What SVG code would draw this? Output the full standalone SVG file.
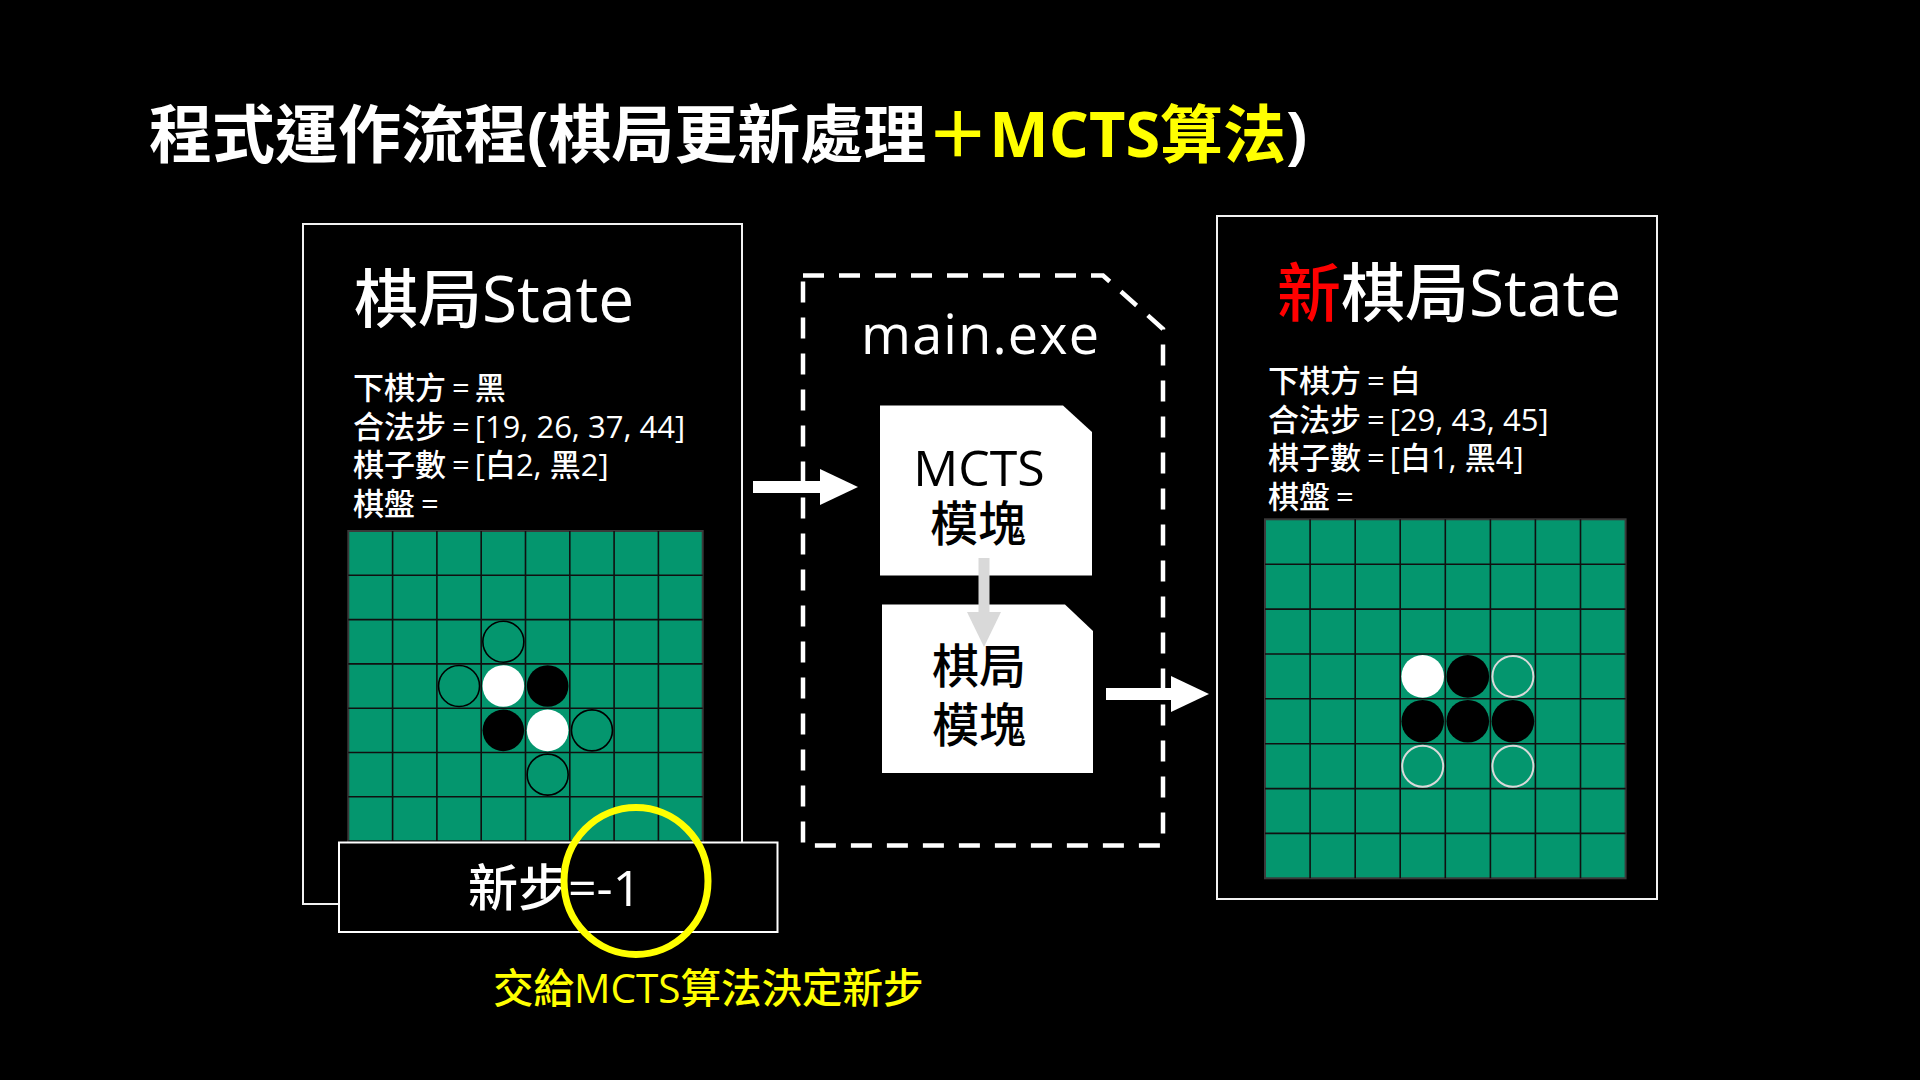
<svg xmlns="http://www.w3.org/2000/svg" width="1920" height="1080" viewBox="0 0 1920 1080">
  <defs>
    <style>
      .t { font-family: "Open Sans", "Noto Sans CJK TC", sans-serif; font-weight: 500; }
      .w { fill: #ffffff; }
      .k { fill: #000000; }
      .y { fill: #ffff00; }
      .red { fill: #ff0000; }
      .panel { fill: #000000; stroke: #f2f2f2; stroke-width: 2; }
      .board { fill: #04966e; stroke: #3a3a3a; stroke-width: 2; }
      .grid { fill: none; stroke: #101010; stroke-width: 1.6; }
      .wp { fill: #ffffff; }
      .bp { fill: #000000; }
      .hintd { fill: none; stroke: #000000; stroke-width: 1.6; }
      .hintl { fill: none; stroke: #d9d9d9; stroke-width: 2; }
      .module { fill: #ffffff; }
      .line { font-size: 31px; }
    </style>
    <marker id="headW" markerUnits="userSpaceOnUse" viewBox="0 0 38 36" markerWidth="38" markerHeight="36" refX="0" refY="18" orient="auto">
      <polygon points="0,0 38,18 0,36" fill="#ffffff"/>
    </marker>
    <marker id="headG" markerUnits="userSpaceOnUse" viewBox="0 0 35 34" markerWidth="35" markerHeight="34" refX="0" refY="17" orient="auto">
      <polygon points="0,0 35,17 0,34" fill="#d9d9d9"/>
    </marker>
  </defs>

  <rect x="0" y="0" width="1920" height="1080" fill="#000000"/>

  <!-- heading -->
  <g id="heading">
    <text class="t" x="149" y="157" font-size="63" font-weight="700" style="font-weight:700"><tspan class="w">程式運作流程(棋局更新處理</tspan><tspan class="y">＋MCTS算法</tspan><tspan class="w">)</tspan></text>
  </g>

  <!-- current state panel -->
  <g id="state-old">
    <rect class="panel" x="303" y="224" width="439" height="680"/>
    <text class="t w" x="354" y="322" font-size="64">棋局State</text>
    <text class="t w line" x="353" y="399">下棋方<tspan dx="6">=</tspan><tspan dx="5">黑</tspan></text>
    <text class="t w line" x="353" y="437.5">合法步<tspan dx="6">=</tspan><tspan dx="5">[19, 26, 37, 44]</tspan></text>
    <text class="t w line" x="353" y="476">棋子數<tspan dx="6">=</tspan><tspan dx="5">[白2, 黑2]</tspan></text>
    <text class="t w line" x="353" y="514.5">棋盤<tspan dx="6">=</tspan></text>
    <g id="board-old">
      <rect class="board" x="348.3" y="531" width="354.4" height="354.4"/>
      <path class="grid" d="M392.6 531V885.4M436.9 531V885.4M481.2 531V885.4M525.5 531V885.4M569.8 531V885.4M614.1 531V885.4M658.4 531V885.4M348.3 575.3H702.7M348.3 619.6H702.7M348.3 663.9H702.7M348.3 708.2H702.7M348.3 752.5H702.7M348.3 796.8H702.7M348.3 841.1H702.7"/>
      <circle class="hintd" cx="503.35" cy="641.75" r="20.5"/>
      <circle class="hintd" cx="459.05" cy="686.05" r="20.5"/>
      <circle class="wp" cx="503.35" cy="686.05" r="20.8"/>
      <circle class="bp" cx="547.65" cy="686.05" r="20.8"/>
      <circle class="bp" cx="503.35" cy="730.35" r="20.8"/>
      <circle class="wp" cx="547.65" cy="730.35" r="20.8"/>
      <circle class="hintd" cx="591.95" cy="730.35" r="20.5"/>
      <circle class="hintd" cx="547.65" cy="774.65" r="20.5"/>
    </g>
  </g>

  <!-- pending move field -->
  <g id="new-move">
    <rect x="339" y="842.5" width="438.5" height="89.5" fill="#000000" stroke="#ffffff" stroke-width="2"/>
    <text class="t w" x="468" y="906" font-size="50">新步=-1</text>
  </g>

  <!-- highlight on the pending move and its note -->
  <g id="highlight">
    <ellipse cx="636" cy="881" rx="72" ry="73.5" fill="none" stroke="#ffff00" stroke-width="7"/>
    <text class="t y" x="493" y="1003" font-size="40.5">交給MCTS算法決定新步</text>
  </g>

  <!-- program container -->
  <g id="main-exe">
    <path d="M803 275.5H1103L1163 329V845.5H803Z" fill="none" stroke="#ffffff" stroke-width="4.5" stroke-dasharray="21 15"/>
    <text class="t w" x="861" y="354" font-size="54" textLength="238">main.exe</text>
  </g>

  <g id="mcts-module">
    <path class="module" d="M880 405.5H1063L1092 432V575.5H880Z"/>
    <text class="t k" font-size="48" text-anchor="middle"><tspan x="979" y="486" font-size="50">MCTS</tspan><tspan x="978" y="541">模塊</tspan></text>
  </g>

  <g id="board-module">
    <path class="module" d="M882 604.5H1065L1093 631V773H882Z"/>
    <text class="t k" font-size="47" text-anchor="middle"><tspan x="979" y="683">棋局</tspan><tspan x="979" y="742">模塊</tspan></text>
  </g>

  <!-- updated state panel -->
  <g id="state-new">
    <rect class="panel" x="1217" y="216" width="440" height="683"/>
    <text class="t" x="1277" y="316" font-size="64"><tspan class="red">新</tspan><tspan class="w">棋局State</tspan></text>
    <text class="t w line" x="1268" y="392">下棋方<tspan dx="6">=</tspan><tspan dx="5">白</tspan></text>
    <text class="t w line" x="1268" y="430.5">合法步<tspan dx="6">=</tspan><tspan dx="5">[29, 43, 45]</tspan></text>
    <text class="t w line" x="1268" y="469">棋子數<tspan dx="6">=</tspan><tspan dx="5">[白1, 黑4]</tspan></text>
    <text class="t w line" x="1268" y="507.5">棋盤<tspan dx="6">=</tspan></text>
    <g id="board-new">
      <rect class="board" x="1265" y="519.3" width="360.6" height="359"/>
      <path class="grid" d="M1310.1 519.3V878.3M1355.2 519.3V878.3M1400.2 519.3V878.3M1445.3 519.3V878.3M1490.4 519.3V878.3M1535.4 519.3V878.3M1580.5 519.3V878.3M1265 564.2H1625.6M1265 609.1H1625.6M1265 654H1625.6M1265 698.8H1625.6M1265 743.7H1625.6M1265 788.6H1625.6M1265 833.4H1625.6"/>
      <circle class="wp" cx="1422.7" cy="676.4" r="21.3"/>
      <circle class="bp" cx="1467.8" cy="676.4" r="21.3"/>
      <circle class="hintl" cx="1512.9" cy="676.4" r="20.5"/>
      <circle class="bp" cx="1422.7" cy="721.3" r="21.3"/>
      <circle class="bp" cx="1467.8" cy="721.3" r="21.3"/>
      <circle class="bp" cx="1512.9" cy="721.3" r="21.3"/>
      <circle class="hintl" cx="1422.7" cy="766.2" r="20.5"/>
      <circle class="hintl" cx="1512.9" cy="766.2" r="20.5"/>
    </g>
  </g>

  <!-- flow arrows -->
  <g id="connectors">
    <line x1="753" y1="487" x2="820" y2="487" stroke="#ffffff" stroke-width="12" marker-end="url(#headW)"/>
    <line x1="984" y1="558" x2="984" y2="612" stroke="#d9d9d9" stroke-width="11" marker-end="url(#headG)"/>
    <line x1="1106" y1="694" x2="1171" y2="694" stroke="#ffffff" stroke-width="12" marker-end="url(#headW)"/>
  </g>
</svg>
